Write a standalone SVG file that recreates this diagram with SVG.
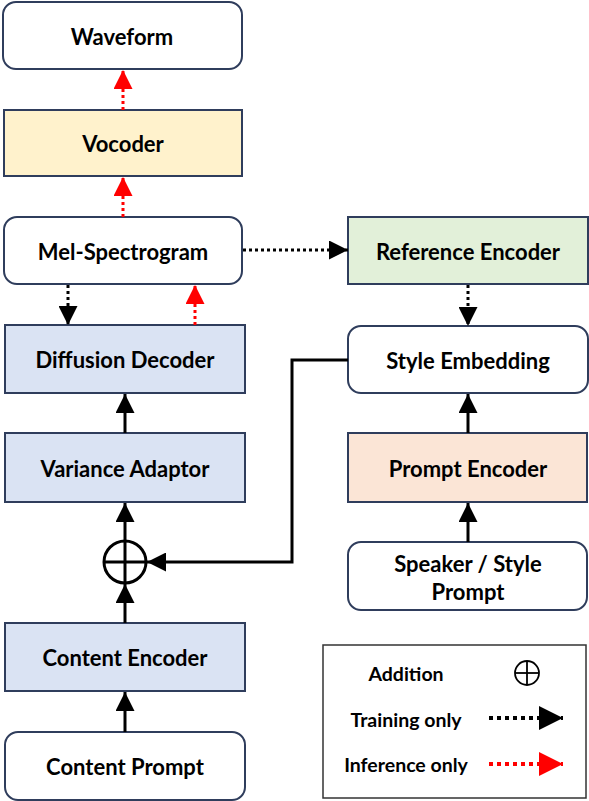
<svg xmlns="http://www.w3.org/2000/svg" width="589" height="801" viewBox="0 0 589 801">
<style>
.n{stroke:#2F3D5C;stroke-width:2}
.w{fill:#FFFFFF}
.b{fill:#DAE3F3}
.y{fill:#FFF2CC}
.g{fill:#E2F0D9}
.o{fill:#FBE5D6}
text{font-family:Lato,"Liberation Sans",sans-serif;font-weight:bold;font-size:22px;fill:#000;text-anchor:middle;dominant-baseline:central}
.lg{font-size:19.5px}
.s{stroke:#000;stroke-width:3;fill:none}
.td{stroke:#000;stroke-width:3;fill:none;stroke-dasharray:3 3}
.rd{stroke:#FF0000;stroke-width:3;fill:none;stroke-dasharray:3 3}
.ltd{stroke:#000;stroke-width:4;fill:none;stroke-dasharray:4 4}
.lrd{stroke:#FF0000;stroke-width:4;fill:none;stroke-dasharray:4 4}
</style>
<defs>
<marker id="ab" viewBox="0 0 10 10" refX="10" refY="5" markerWidth="19" markerHeight="19" markerUnits="userSpaceOnUse" orient="auto"><path d="M0,0 L10,5 L0,10 z" fill="#000"/></marker>
<marker id="ar" viewBox="0 0 10 10" refX="10" refY="5" markerWidth="19" markerHeight="19" markerUnits="userSpaceOnUse" orient="auto"><path d="M0,0 L10,5 L0,10 z" fill="#FF0000"/></marker>
<marker id="lab" viewBox="0 0 10 10" refX="10" refY="5" markerWidth="24" markerHeight="24" markerUnits="userSpaceOnUse" orient="auto"><path d="M0,0 L10,5 L0,10 z" fill="#000"/></marker>
<marker id="lar" viewBox="0 0 10 10" refX="10" refY="5" markerWidth="24" markerHeight="24" markerUnits="userSpaceOnUse" orient="auto"><path d="M0,0 L10,5 L0,10 z" fill="#FF0000"/></marker>
</defs>
<rect width="589" height="801" fill="#FFFFFF"/>
<g id="waveform"><rect class="n w" x="3" y="2" width="239" height="67" rx="13"/><text x="122" y="36">Waveform</text></g>
<g id="vocoder"><rect class="n y" x="4" y="110" width="238" height="66"/><text x="123" y="143">Vocoder</text></g>
<g id="mel"><rect class="n w" x="4" y="217" width="238" height="67" rx="13"/><text x="123" y="251">Mel-Spectrogram</text></g>
<g id="diffusion"><rect class="n b" x="5" y="325" width="240" height="68"/><text x="125" y="359">Diffusion Decoder</text></g>
<g id="variance"><rect class="n b" x="5" y="433" width="240" height="69"/><text x="125" y="468">Variance Adaptor</text></g>
<g id="addition"><circle cx="125" cy="562" r="21" fill="#FFFFFF" stroke="#000" stroke-width="3"/><line x1="104" y1="562" x2="146" y2="562" stroke="#000" stroke-width="3"/><line x1="125" y1="541" x2="125" y2="583" stroke="#000" stroke-width="3"/></g>
<g id="content-encoder"><rect class="n b" x="5" y="623" width="240" height="68"/><text x="125" y="657">Content Encoder</text></g>
<g id="content-prompt"><rect class="n w" x="5" y="732" width="240" height="68" rx="13"/><text x="125" y="766">Content Prompt</text></g>
<g id="reference-encoder"><rect class="n g" x="348" y="217" width="240" height="67"/><text x="468" y="251">Reference Encoder</text></g>
<g id="style-embedding"><rect class="n w" x="348" y="326" width="240" height="67" rx="13"/><text x="468" y="360">Style Embedding</text></g>
<g id="prompt-encoder"><rect class="n o" x="348" y="433" width="239" height="69"/><text x="468" y="468">Prompt Encoder</text></g>
<g id="speaker-prompt"><rect class="n w" x="348" y="542" width="239" height="68" rx="13"/><text x="468" y="563">Speaker / Style</text><text x="468" y="591">Prompt</text></g>
<g id="connectors">
<line class="rd" x1="123" y1="110" x2="123" y2="70" marker-end="url(#ar)"/>
<line class="rd" x1="123" y1="217" x2="123" y2="177" marker-end="url(#ar)"/>
<line class="td" x1="68" y1="285" x2="68" y2="325" marker-end="url(#ab)"/>
<line class="rd" x1="195" y1="325" x2="195" y2="285" marker-end="url(#ar)"/>
<line class="td" x1="243" y1="250" x2="348" y2="250" marker-end="url(#ab)"/>
<line class="td" x1="468" y1="285" x2="468" y2="326" marker-end="url(#ab)"/>
<line class="s" x1="125" y1="433" x2="125" y2="394" marker-end="url(#ab)"/>
<line class="s" x1="125" y1="541" x2="125" y2="503" marker-end="url(#ab)"/>
<line class="s" x1="125" y1="623" x2="125" y2="584" marker-end="url(#ab)"/>
<line class="s" x1="125" y1="732" x2="125" y2="692" marker-end="url(#ab)"/>
<line class="s" x1="468" y1="433" x2="468" y2="394" marker-end="url(#ab)"/>
<line class="s" x1="468" y1="542" x2="468" y2="503" marker-end="url(#ab)"/>
<polyline class="s" points="348,360 292,360 292,562 147,562" marker-end="url(#ab)"/>
</g>
<g id="legend">
<rect x="323" y="645" width="263" height="153" fill="#FFFFFF" stroke="#333" stroke-width="1.5"/>
<text class="lg" x="406" y="673">Addition</text>
<circle cx="527" cy="673" r="12" fill="none" stroke="#000" stroke-width="1.8"/>
<line x1="515" y1="673" x2="539" y2="673" stroke="#000" stroke-width="1.8"/>
<line x1="527" y1="661" x2="527" y2="685" stroke="#000" stroke-width="1.8"/>
<text class="lg" x="406" y="719">Training only</text>
<line class="ltd" x1="489" y1="718" x2="563" y2="718" marker-end="url(#lab)"/>
<text class="lg" x="406" y="764">Inference only</text>
<line class="lrd" x1="489" y1="764" x2="563" y2="764" marker-end="url(#lar)"/>
</g>
</svg>
